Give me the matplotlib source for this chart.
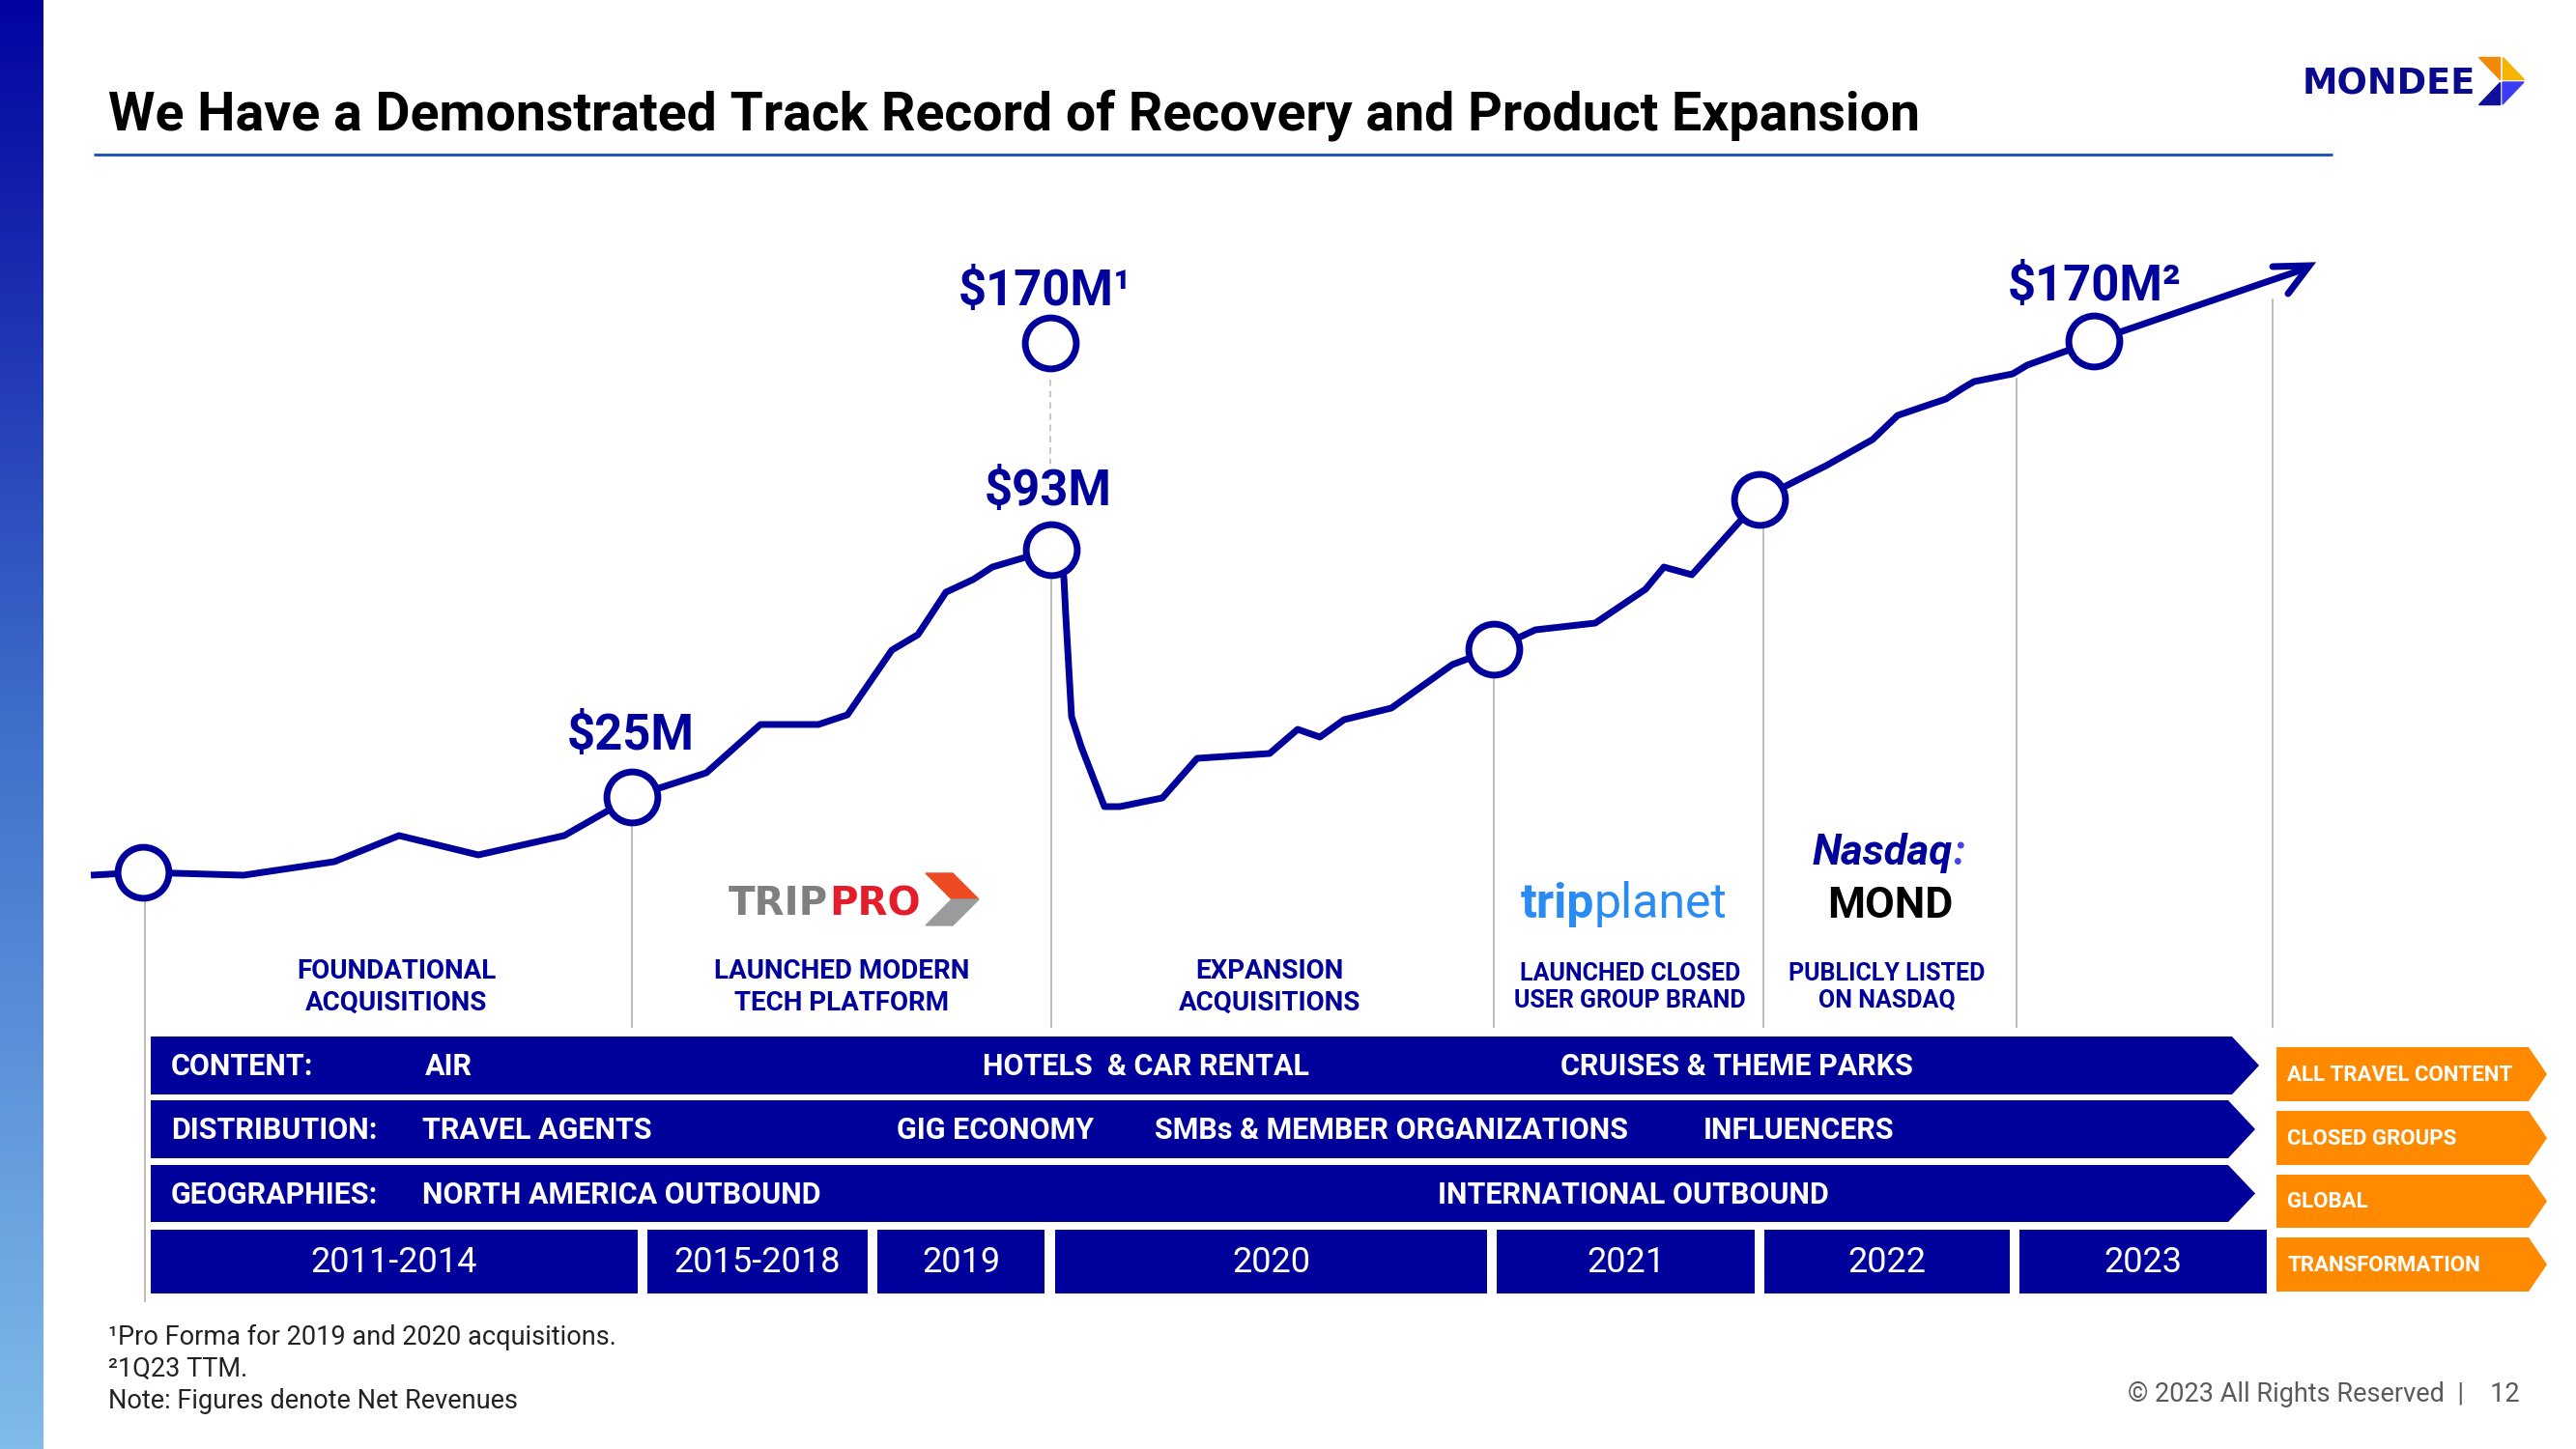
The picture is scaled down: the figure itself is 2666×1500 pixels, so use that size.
import matplotlib
matplotlib.use('Agg')
import matplotlib.pyplot as plt
from matplotlib.patches import Polygon, Rectangle
from matplotlib.colors import LinearSegmentedColormap
import numpy as np

plt.rcParams['font.family'] = ['Roboto', 'DejaVu Sans']

NAVY = '#00009A'
ORANGE = '#FF8A00'
GREY = '#BDBDBD'

# --- data (positions on the 2666x1500 canvas) ---
trend_x = [94, 148, 252, 346, 413, 495, 584, 654, 731, 787, 847, 877, 923, 950,
           979, 1007, 1027, 1088, 1101, 1103, 1109, 1119, 1143, 1159, 1203, 1239,
           1314, 1343, 1366, 1391, 1440, 1503, 1546, 1589, 1651, 1703, 1722, 1751,
           1821, 1868, 1890, 1938, 1964, 2014, 2031, 2043, 2083, 2098, 2167, 2386]
trend_y = [906, 903, 906, 892, 865, 885, 865, 825, 800, 750, 750, 740, 673, 657,
           613, 600, 587, 569, 597, 637, 742, 773, 835, 835, 826, 785,
           780, 755, 763, 745, 733, 688, 672, 652, 645, 610, 587, 595,
           517, 493, 482, 455, 430, 413, 402, 395, 387, 378, 353, 278]

milestone_x = [148, 654, 1088, 1546, 1821, 2167]
milestone_y = [903, 825, 569, 672, 517, 353]
proforma_x, proforma_y = 1087, 355

value_labels = ['$25M', '$93M', '$170M\u00b9', '$170M\u00b2']
value_label_x = [653, 1085, 1082, 2168]
value_label_y = [762, 509, 302, 297]

sep_x = [150, 654, 1088, 1546, 1825, 2087, 2352]
sep_top = [933, 856, 600, 703, 548, 392, 310]
sep_bottom = [1347, 1063, 1063, 1063, 1063, 1063, 1063]

captions = ['FOUNDATIONAL\nACQUISITIONS', 'LAUNCHED MODERN\nTECH PLATFORM',
            'EXPANSION\nACQUISITIONS', 'LAUNCHED CLOSED\nUSER GROUP BRAND',
            'PUBLICLY LISTED\nON NASDAQ']
caption_x = [410, 871, 1314, 1687, 1953]
caption_size = [20, 20, 20, 18, 18]

years = ['2011-2014', '2015-2018', '2019', '2020', '2021', '2022', '2023']
year_start = [156, 670, 908, 1092, 1549, 1826, 2090]
year_end = [660, 898, 1081, 1539, 1816, 2080, 2346]

row_names = ['CONTENT:', 'DISTRIBUTION:', 'GEOGRAPHIES:']
row_items = [['AIR', 'HOTELS  & CAR RENTAL', 'CRUISES & THEME PARKS'],
             ['TRAVEL AGENTS', 'GIG ECONOMY', 'SMBs & MEMBER ORGANIZATIONS', 'INFLUENCERS'],
             ['NORTH AMERICA OUTBOUND', 'INTERNATIONAL OUTBOUND']]
row_item_x = [[440, 1017, 1615], [437, 928, 1195, 1763], [437, 1488]]
row_top = [1073, 1139, 1206]
row_bottom = [1133, 1199, 1265]
row_tip = [2338, 2334, 2334]

outcomes = ['ALL TRAVEL CONTENT', 'CLOSED GROUPS', 'GLOBAL', 'TRANSFORMATION']
outcome_top = [1084, 1150, 1216, 1281]
outcome_bottom = [1140, 1206, 1271, 1337]

footnotes = ['\u00b9Pro Forma for 2019 and 2020 acquisitions.', '\u00b21Q23 TTM.',
             'Note: Figures denote Net Revenues']

fig = plt.figure(figsize=(26.66, 15), dpi=100)
ax = fig.add_axes([0, 0, 1, 1])
ax.set_xlim(0, 2666)
ax.set_ylim(1500, 0)
ax.axis('off')

# left gradient bar
cmap = LinearSegmentedColormap.from_list('side', ['#0303A0', '#3F6FCB', '#80BBEA'])
ax.imshow(np.linspace(0, 1, 256).reshape(-1, 1), cmap=cmap, aspect='auto',
          extent=[0, 45, 1500, 0], zorder=1)

# title + rule
ax.text(112, 135, 'We Have a Demonstrated Track Record of Recovery and Product Expansion',
        fontsize=39.9, fontweight='bold', color='black', va='baseline', ha='left')
ax.plot([97, 2414], [160, 160], color='#2157B7', lw=2.2, solid_capstyle='butt')

# Mondee logo
ax.text(2383, 97, 'MONDEE', fontsize=26.5, fontweight='bold', color='#0A0A8C',
        va='baseline', ha='left', family='DejaVu Sans')
ax.add_patch(Polygon([(2565, 59), (2587, 59), (2587, 82)], closed=True, color='#F28A0A'))
ax.add_patch(Polygon([(2590, 59), (2590, 82), (2612, 82)], closed=True, color='#F6B400'))
ax.add_patch(Polygon([(2590, 85), (2612, 85), (2590, 108)], closed=True, color='#3B3BF2'))
ax.add_patch(Polygon([(2587, 85), (2587, 108), (2565, 108)], closed=True, color='#10109A'))

# separators
for x, t, b in zip(sep_x, sep_top, sep_bottom):
    ax.plot([x, x], [t, b], color=GREY, lw=1.4, zorder=2)
ax.plot([proforma_x, proforma_x], [393, 480], color=GREY, lw=1.2, ls=(0, (4, 3)), zorder=2)

# trend line + arrowhead
ax.plot(trend_x, trend_y, color=NAVY, lw=5, solid_joinstyle='round',
        solid_capstyle='butt', zorder=4)
ax.plot([2352, 2390, 2368], [276, 275, 304], color=NAVY, lw=5,
        solid_joinstyle='miter', solid_capstyle='round', zorder=4)

ax.plot(milestone_x, milestone_y, 'o', ms=38, mfc='white', mec=NAVY, mew=5, zorder=5)
ax.plot([proforma_x], [proforma_y], 'o', ms=38, mfc='white', mec=NAVY, mew=5, zorder=5)

for lab, x, y in zip(value_labels, value_label_x, value_label_y):
    ax.text(x, y, lab, fontsize=36.5, fontweight='bold', color=NAVY, ha='center', va='center')

# logos above captions
ax.text(857, 947, 'TRIP', fontsize=29, fontweight='bold', color='#7D7F80', ha='right',
        va='baseline', family='DejaVu Sans')
ax.text(858, 947, 'PRO', fontsize=29, fontweight='bold', color='#E31E2A', ha='left',
        va='baseline', family='DejaVu Sans')
ax.add_patch(Polygon([(958, 904), (986, 904), (1013, 931), (985, 931)], closed=True, color='#EE4A22'))
ax.add_patch(Polygon([(985, 931), (1013, 931), (986, 958), (958, 958)], closed=True, color='#9A9B9C'))

ax.text(1650, 950, 'trip', fontsize=36, fontweight='bold', color='#2A8CF2', ha='right', va='baseline')
ax.text(1650, 950, 'planet', fontsize=36, color='#2A8CF2', ha='left', va='baseline')

ax.text(2021, 895, 'Nasdaq', fontsize=31.5, fontweight='bold', style='italic', color=NAVY,
        ha='right', va='baseline')
ax.text(2021, 895, ':', fontsize=31.5, fontweight='bold', style='italic', color='#4545E6',
        ha='left', va='baseline')
ax.text(1956, 950, 'MOND', fontsize=32, fontweight='bold', color='black', ha='center', va='baseline')

for cap, x, fs in zip(captions, caption_x, caption_size):
    ax.text(x, 1022, cap, fontsize=fs, fontweight='bold', color=NAVY, ha='center',
            va='center', linespacing=1.25)

# banner rows
for name, items, xs, t, b, tip in zip(row_names, row_items, row_item_x, row_top, row_bottom, row_tip):
    mid = (t + b) / 2
    ax.add_patch(Polygon([(156, t), (tip - 28, t), (tip, mid), (tip - 28, b), (156, b)],
                         closed=True, color=NAVY, lw=0, zorder=3))
    ax.text(177, mid + 1, name, fontsize=22, fontweight='bold', color='white', va='center', zorder=6)
    for it, x in zip(items, xs):
        ax.text(x, mid + 1, it, fontsize=22, fontweight='bold', color='white', va='center', zorder=6)

# year boxes
for y, s, e in zip(years, year_start, year_end):
    ax.add_patch(Rectangle((s, 1273), e - s, 66, color=NAVY, lw=0, zorder=3))
    ax.text((s + e) / 2, 1307, y, fontsize=26, color='white', ha='center', va='center', zorder=6)

# orange outcome arrows
for lab, t, b in zip(outcomes, outcome_top, outcome_bottom):
    mid = (t + b) / 2
    ax.add_patch(Polygon([(2356, t), (2617, t), (2636, mid), (2617, b), (2356, b)],
                         closed=True, color=ORANGE, lw=0, zorder=3))
    ax.text(2367, mid + 1, lab, fontsize=16, fontweight='bold', color='white',
            va='center', zorder=6)

# footnotes
for i, fn in enumerate(footnotes):
    ax.text(112, 1384 + i * 33.5, fn, fontsize=19.5, color='#222222', va='center')
ax.text(2608, 1443, '\u00a9 2023 All Rights Reserved  |    12', fontsize=19.5,
        color='#5A5A5A', ha='right', va='center')

fig.savefig('out.png', dpi=100)
